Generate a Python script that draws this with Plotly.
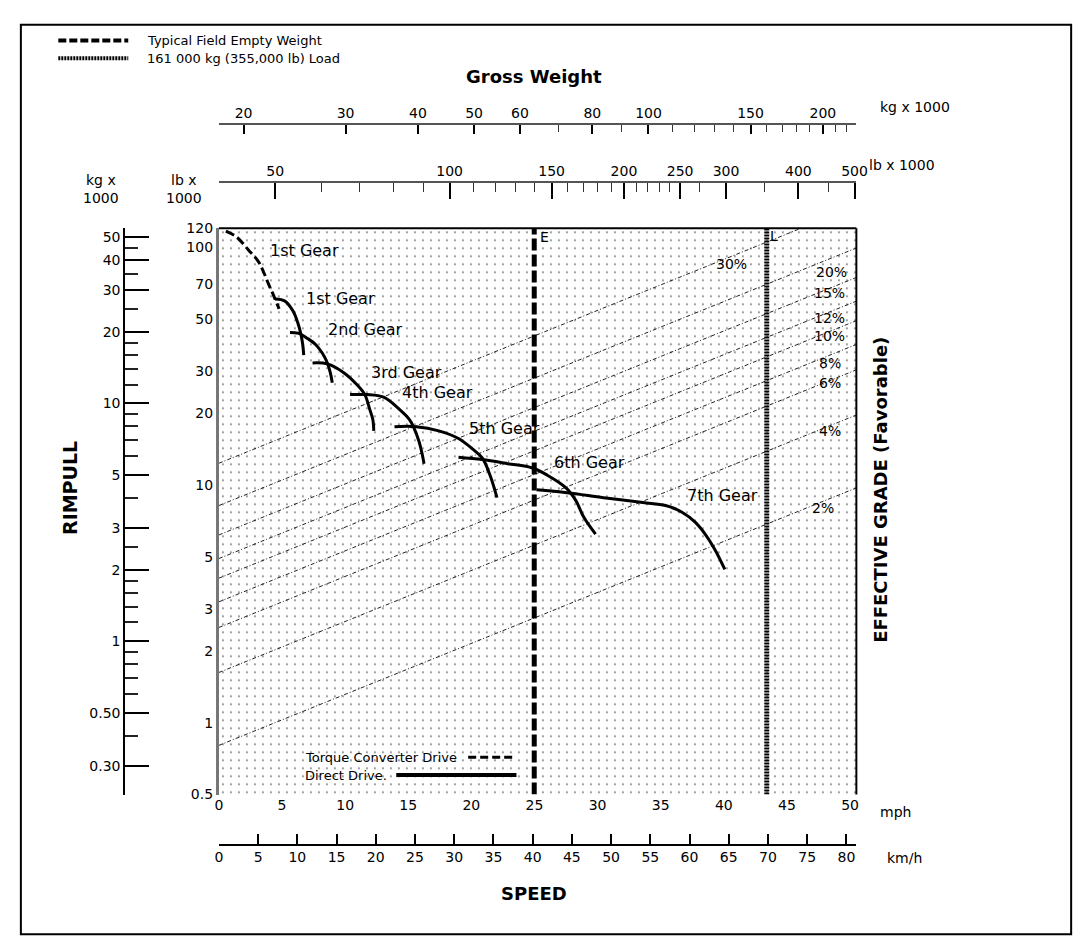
import math
import plotly.graph_objects as go

# ---------------- data ----------------
# Rimpull curves: speed (mph) vs rimpull (lb x 1000)
tc1_speed = [0.55, 1.41, 2.34, 3.13, 3.59, 3.91, 4.22, 4.45, 4.77]
tc1_rimpull = [116.7, 110.2, 97.3, 86.9, 77.5, 70.4, 64.7, 60.5, 55.0]

g1_speed = [4.45, 5.23, 5.86, 6.25, 6.48, 6.64, 6.72]
g1_rimpull = [60.5, 59.3, 54.0, 48.1, 43.4, 39.0, 35.2]

g2_speed = [5.63, 6.33, 7.03, 7.66, 8.20, 8.59, 8.83, 8.98]
g2_rimpull = [43.8, 43.4, 41.3, 39.0, 35.8, 32.6, 29.6, 26.9]

g3_speed = [7.42, 8.59, 9.92, 10.94, 11.56, 11.95, 12.19, 12.27]
g3_rimpull = [32.6, 32.3, 29.6, 26.4, 24.0, 20.8, 18.9, 16.9]

g4_speed = [10.39, 11.72, 13.05, 14.30, 15.08, 15.39, 15.86, 16.09, 16.25]
g4_rimpull = [24.0, 24.0, 23.4, 20.8, 18.9, 17.7, 15.2, 13.6, 12.3]

g5_speed = [13.91, 15.63, 17.42, 18.98, 20.08, 20.86, 21.48, 22.03]
g5_rimpull = [17.6, 17.6, 16.9, 15.7, 14.2, 13.0, 11.0, 8.85]

g6_speed = [18.98, 20.86, 22.89, 24.84, 26.02, 27.50, 28.28, 28.91, 29.84]
g6_rimpull = [13.1, 12.8, 12.3, 11.8, 11.0, 9.73, 8.60, 7.32, 6.22]

g7_speed = [25.16, 27.58, 30.47, 33.59, 35.39, 36.72, 37.73, 38.52, 39.30, 40.08]
g7_rimpull = [9.55, 9.28, 8.85, 8.44, 8.20, 7.67, 6.98, 6.22, 5.35, 4.42]

gear_names = ["1st Gear", "1st Gear", "2nd Gear", "3rd Gear", "4th Gear",
              "5th Gear", "6th Gear", "7th Gear"]

# Effective grade lines (start / end of each line)
grade_names = ["2%", "4%", "6%", "8%", "10%", "12%", "15%", "20%", "30%"]
grade_start_speed = [0, 0, 0, 0, 0, 0, 0, 0, 0]
grade_start_rimpull = [0.805, 1.63, 2.52, 3.23, 4.06, 4.91, 6.17, 8.20, 12.35]
grade_end_speed = [50.5, 50.5, 50.5, 50.5, 50.5, 50.5, 50.5, 50.5, 46.1]
grade_end_rimpull = [9.73, 19.7, 30.5, 39.0, 49.1, 59.3, 74.6, 99.2, 120.0]

# Gross weight markers (kg x 1000)
gw_names = ["E", "L"]
gw_kg = [63.5, 160.0]

# Axis ticks
mph_ticks = [0, 5, 10, 15, 20, 25, 30, 35, 40, 45, 50]
kmh_ticks = [0, 5, 10, 15, 20, 25, 30, 35, 40, 45, 50, 55, 60, 65, 70, 75, 80]
gw_kg_ticks = [20, 30, 40, 50, 60, 80, 100, 150, 200]
gw_kg_minor = [70, 90, 110, 120, 130, 140, 160, 170, 180, 190, 210, 220]
gw_lb_ticks = [50, 100, 150, 200, 250, 300, 400, 500]
gw_lb_minor = [60, 70, 80, 90, 110, 120, 130, 140, 160, 170, 180, 190, 210,
               220, 230, 240, 270, 350, 450]
rim_lb_ticks = [0.5, 1, 2, 3, 5, 10, 20, 30, 50, 70, 100, 120]
rim_kg_ticks = [0.3, 0.5, 1, 2, 3, 5, 10, 20, 30, 40, 50]
rim_kg_text = ["0.30", "0.50", "1", "2", "3", "5", "10", "20", "30", "40", "50"]
rim_kg_minor = [0.4, 0.6, 0.7, 0.8, 0.9, 1.2, 1.4, 1.6, 1.8, 2.5, 4, 6, 7, 8,
                9, 12, 14, 16, 18, 25, 35, 45]

# ---------------- layout helpers ----------------
FONT = "DejaVu Sans, Liberation Sans, Arial, sans-serif"
W, H = 1085, 943


def px(x):
    return x / W


def py(y):
    return 1 - y / H


PL, PR, PT, PB = 210, 857, 216, 792
dom_x = [px(PL), px(PR)]
dom_y = [py(PB), py(PT)]

MPH_MAX = 50.5
KMH_MAX = MPH_MAX * 1.609344
RIM_LB_RANGE = [math.log10(0.5), math.log10(120)]
LB_PER_KG = math.log10(2.20462)
RIM_KG_RANGE = [RIM_LB_RANGE[0] - LB_PER_KG, RIM_LB_RANGE[1] - LB_PER_KG]
GW_KG_RANGE = [1.2585, 2.3588]
GW_LB_RANGE = [GW_KG_RANGE[0] + LB_PER_KG, GW_KG_RANGE[1] + LB_PER_KG]

fig = go.Figure()

# dotted background texture of the chart area
fig.add_trace(go.Bar(
    x=[MPH_MAX / 2], y=[120 - 0.5], base=[0.5], width=[MPH_MAX],
    marker=dict(color="white", line=dict(width=0),
                pattern=dict(shape=".", size=8, solidity=0.05,
                             fgcolor="black", bgcolor="white")),
    hoverinfo="skip", showlegend=False))

# grade lines
for i in range(len(grade_names)):
    fig.add_trace(go.Scatter(
        x=[grade_start_speed[i], grade_end_speed[i]],
        y=[grade_start_rimpull[i], grade_end_rimpull[i]],
        mode="lines", line=dict(color="#222", width=1, dash="4px,2px,1px,2px"),
        hoverinfo="skip", showlegend=False))

# gross weight lines (E, L)
fig.add_trace(go.Scatter(
    x=[gw_kg[0], gw_kg[0]], y=[0.5, 120], xaxis="x3", yaxis="y",
    mode="lines", line=dict(color="black", width=5, dash="12px,4px"),
    hoverinfo="skip", showlegend=False))
fig.add_trace(go.Scatter(
    x=[gw_kg[1], gw_kg[1]], y=[0.5, 120], xaxis="x3", yaxis="y",
    mode="lines", line=dict(color="black", width=5, dash="2px,1px"),
    hoverinfo="skip", showlegend=False))

# rimpull curves
fig.add_trace(go.Scatter(x=tc1_speed, y=tc1_rimpull, mode="lines",
                         line=dict(color="black", width=3, dash="9px,4px", shape="spline"),
                         hoverinfo="skip", showlegend=False))
for xs, ys in [(g1_speed, g1_rimpull), (g2_speed, g2_rimpull), (g3_speed, g3_rimpull),
               (g4_speed, g4_rimpull), (g5_speed, g5_rimpull), (g6_speed, g6_rimpull),
               (g7_speed, g7_rimpull)]:
    fig.add_trace(go.Scatter(x=xs, y=ys, mode="lines",
                             line=dict(color="black", width=3, shape="spline"),
                             hoverinfo="skip", showlegend=False))

# anchor traces for secondary axes
fig.add_trace(go.Scatter(x=[None], y=[None], xaxis="x2", yaxis="y", showlegend=False, hoverinfo="skip"))
fig.add_trace(go.Scatter(x=[None], y=[None], xaxis="x4", yaxis="y", showlegend=False, hoverinfo="skip"))
fig.add_trace(go.Scatter(x=[None], y=[None], xaxis="x", yaxis="y2", showlegend=False, hoverinfo="skip"))

tickfont = dict(family=FONT, size=14, color="black")

fig.update_layout(
    width=W, height=H, margin=dict(l=0, r=0, t=0, b=0), autosize=False,
    paper_bgcolor="white", plot_bgcolor="white", showlegend=False,
    xaxis=dict(domain=dom_x, range=[0, MPH_MAX], anchor="y", showgrid=False,
               zeroline=False, showline=False, ticks="", tickmode="array",
               tickvals=mph_ticks, tickfont=tickfont),
    yaxis=dict(domain=dom_y, type="log", range=RIM_LB_RANGE, anchor="x",
               showgrid=False, zeroline=False, showline=True, linecolor="#777",
               linewidth=3, ticks="", tickmode="array", tickvals=rim_lb_ticks,
               ticktext=[str(v) for v in rim_lb_ticks], tickfont=tickfont),
    xaxis2=dict(domain=dom_x, range=[0, KMH_MAX], overlaying="x", anchor="free",
                position=py(843), side="bottom", showgrid=False, zeroline=False,
                showline=True, linecolor="black", linewidth=2, ticks="inside",
                ticklen=10, tickwidth=2, tickcolor="black", tickmode="array",
                tickvals=kmh_ticks, tickfont=tickfont),
    xaxis3=dict(domain=dom_x, type="log", range=GW_KG_RANGE, overlaying="x",
                anchor="free", position=py(110), side="top", showgrid=False,
                zeroline=False, showline=True, linecolor="#555", linewidth=2,
                ticks="inside", ticklen=9, tickwidth=2, tickcolor="black",
                tickmode="array", tickvals=gw_kg_ticks,
                ticktext=[str(v) for v in gw_kg_ticks], tickfont=tickfont,
                minor=dict(tickmode="array", tickvals=gw_kg_minor, ticks="inside",
                           ticklen=7, tickcolor="#333", tickwidth=1)),
    xaxis4=dict(domain=dom_x, type="log", range=GW_LB_RANGE, overlaying="x",
                anchor="free", position=py(169), side="top", showgrid=False,
                zeroline=False, showline=True, linecolor="#555", linewidth=2,
                ticks="inside", ticklen=16, tickwidth=2, tickcolor="black",
                tickmode="array", tickvals=gw_lb_ticks,
                ticktext=[str(v) for v in gw_lb_ticks], tickfont=tickfont,
                minor=dict(tickmode="array", tickvals=gw_lb_minor, ticks="inside",
                           ticklen=9, tickcolor="#333", tickwidth=1)),
    yaxis2=dict(domain=dom_y, type="log", range=RIM_KG_RANGE, overlaying="y",
                anchor="free", position=px(114), side="left", showgrid=False,
                zeroline=False, showline=True, linecolor="black", linewidth=2,
                ticks="inside", ticklen=24, tickwidth=2, tickcolor="black",
                tickmode="array", tickvals=rim_kg_ticks, ticktext=rim_kg_text,
                tickfont=tickfont,
                minor=dict(tickmode="array", tickvals=rim_kg_minor, ticks="inside",
                           ticklen=13, tickcolor="#222", tickwidth=2)),
)

annotations = []


def note(text, x, y, size=14, bold=False, anchor="center", angle=0):
    if bold:
        text = "<b>" + text + "</b>"
    annotations.append(dict(text=text, x=px(x), y=py(y), xref="paper", yref="paper",
                            showarrow=False, xanchor=anchor, yanchor="middle",
                            textangle=angle,
                            font=dict(family=FONT, size=size, color="black")))


# titles
note("Gross Weight", 530, 62, size=18, bold=True)
note("kg x 1000", 879, 93, size=14, anchor="left")
note("lb x 1000", 868, 152, size=14, anchor="left")
note("kg x", 90, 167, size=14)
note("1000", 90, 185, size=14)
note("lb x", 175, 167, size=14)
note("1000", 175, 185, size=14)
note("RIMPULL", 59, 480, size=19, bold=True, angle=-90)
note("EFFECTIVE GRADE (Favorable)", 882, 482, size=18, bold=True, angle=-90)
note("SPEED", 530, 893, size=18, bold=True)
note("mph", 879, 810, size=14, anchor="left")
note("km/h", 886, 857, size=14, anchor="left")

# gear labels
gear_label_pos = [(297, 239), (333, 287), (359, 319), (400, 363), (432, 383),
                  (500, 420), (586, 454), (721, 488)]
for name, (x, y) in zip(gear_names, gear_label_pos):
    note(name, x, y, size=16)

# grade labels
grade_label_pos = [(823, 500), (830, 422), (830, 373), (830, 353), (830, 326),
                   (830, 307), (830, 282), (832, 260), (730, 252)]
for name, (x, y) in zip(grade_names, grade_label_pos):
    note(name, x, y, size=14)

# E / L letters
note("E", 534, 225, size=14, anchor="left")
note("L", 767, 224, size=14, anchor="left")

# legends
note("Typical Field Empty Weight", 135, 25, size=13, anchor="left")
note("161 000 kg (355,000 lb) Load", 135, 43, size=13, anchor="left")
note("Torque Converter Drive", 295, 754, size=13, anchor="left")
note("Direct Drive.", 295, 773, size=13, anchor="left")

shapes = []


def seg(x0, y0, x1, y1, width=2, dash="solid", color="black"):
    shapes.append(dict(type="line", xref="paper", yref="paper",
                       x0=px(x0), y0=py(y0), x1=px(x1), y1=py(y1),
                       line=dict(color=color, width=width, dash=dash)))


# outer frame
shapes.append(dict(type="rect", xref="paper", yref="paper",
                   x0=px(9), y0=py(934), x1=px(1075), y1=py(9),
                   line=dict(color="black", width=2)))
# chart borders (top, right)
seg(PL, PT, PR, PT, width=2)
seg(PR, PT, PR, PB, width=2)
# legend keys
seg(47, 25, 118, 25, width=4, dash="8px,3px")
seg(47, 43, 118, 43, width=4, dash="2px,1px")
seg(463, 754, 510, 754, width=3, dash="8px,4px")
seg(390, 772, 512, 772, width=4)

fig.update_layout(annotations=annotations, shapes=shapes)

fig.write_html("out.html")
